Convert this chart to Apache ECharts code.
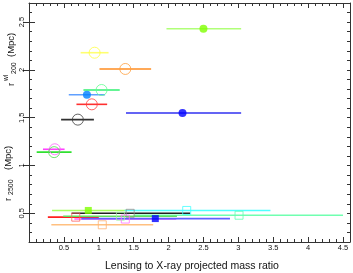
<!DOCTYPE html>
<html><head><meta charset="utf-8">
<script src="https://cdn.jsdelivr.net/npm/echarts@6/dist/echarts.min.js"></script>
<style>html,body{margin:0;padding:0;background:#fff}#c{width:353px;height:273px}</style>
</head><body><div id="c"></div>
<script>
// ---- data: r200 (weak lensing, circles) ----
const r200X  = [2.50, 2.20, 0.94, 1.38, 1.04, 0.83, 0.90, 0.70, 0.37, 0.36];
const r200Lo = [1.97, 1.39, 0.74, 1.01, 0.78, 0.57, 0.68, 0.46, 0.20, 0.11];
const r200Hi = [3.04, 3.04, 1.14, 1.75, 1.30, 1.09, 1.12, 0.93, 0.51, 0.61];
const r200Y  = [2.43, 1.55, 2.18, 2.01, 1.79, 1.74, 1.64, 1.48, 1.17, 1.14];
const r200Filled = [true, true, false, false, false, true, false, false, false, false];
// ---- data: r2500 (squares) ----
const r2500X  = [0.85, 2.26, 1.45, 3.01, 0.67, 1.31, 1.38, 1.81, 1.05];
const r2500Lo = [0.33, 1.37, 0.61, 1.50, 0.27, 0.49, 0.65, 0.75, 0.32];
const r2500Hi = [1.40, 3.46, 2.31, 4.50, 1.00, 2.12, 2.11, 2.88, 1.78];
const r2500Y  = [0.53, 0.53, 0.50, 0.48, 0.46, 0.47, 0.44, 0.445, 0.38];
const r2500Filled = [true, false, false, false, false, false, false, true, false];
const xTickLabels = [0.5, 1, 1.5, 2, 2.5, 3, 3.5, 4, 4.5];
const yTickLabels = [0.5, 1, 1.5, 2, 2.5];

// ---- styles ----
const r200Mark = ['#80ff00','#0000ff','#ffff40','#ffa040','#60ff90','#0080ff','#ff4040','#404040','#ff60ff','#50e050'];
const r200Bar  = ['#b0ff78','#3030f0','#ffff70','#ff8c20','#30f070','#60a0ff','#ff3030','#303030','#ff40ff','#30e030'];
const r2500Mark = ['#80ff00','#40ffff','#909090','#60ffb0','#ff6060','#a0f0a0','#ff70ff','#0000ff','#ffb070'];
const r2500Bar  = ['#a8ff60','#50ffff','#202020','#70ffb0','#ff2020','#60e060','#ff60ff','#6060ff','#ffc080'];

const FONT = 'Liberation Sans, Arial, sans-serif';
const chart = echarts.init(document.getElementById('c'), null, {renderer: 'canvas'});
const grid = {left: 29, right: 2, top: 2, bottom: 31};

function isHalf(v){ return Math.abs(v*2 - Math.round(v*2)) < 1e-6; }

function barSeries(lo, hi, y, colors){
  return {
    type: 'custom',
    silent: true,
    data: lo.map((l, i) => [l, hi[i], y[i]]),
    encode: {x: [0, 1], y: 2},
    clip: true,
    renderItem: function(params, api){
      const a = api.coord([api.value(0), api.value(2)]);
      const b = api.coord([api.value(1), api.value(2)]);
      return {type: 'line', shape: {x1: a[0], y1: a[1], x2: b[0], y2: b[1]},
        style: {stroke: colors[params.dataIndex], lineWidth: 1.6}};
    },
    z: 2
  };
}
function markSeries(xs, ys, filled, colors, symbol, openSize, fillSize){
  return {
    type: 'scatter',
    silent: true,
    data: xs.map((x, i) => ({
      value: [x, ys[i]],
      symbolSize: filled[i] ? fillSize : openSize,
      itemStyle: filled[i]
        ? {color: colors[i], borderWidth: 0}
        : {color: 'rgba(0,0,0,0)', borderColor: colors[i], borderWidth: 1}
    })),
    symbol: symbol,
    z: 3
  };
}

const tickStyle = {lineStyle: {color: '#333', width: 1}};
const xAxisBase = {
  type: 'value', min: 0, max: 4.6, interval: 0.5,
  axisLine: {show: true, onZero: false, lineStyle: {color: '#333', width: 1}},
  axisTick: Object.assign({show: true, inside: true, length: 5}, tickStyle),
  minorTick: Object.assign({show: true, splitNumber: 5, length: 3}, tickStyle),
  splitLine: {show: false}
};
const yMinor = {
  type: 'value', min: 0.2, max: 2.7, interval: 0.1,
  axisLine: {show: true, onZero: false, lineStyle: {color: '#333', width: 1}},
  axisTick: Object.assign({show: true, inside: true, length: 3}, tickStyle),
  splitLine: {show: false}
};
const yMajor = {
  type: 'value', min: 0.2, max: 2.7, interval: 0.1,
  axisLine: {show: false},
  axisTick: Object.assign({show: true, inside: true, length: 6, customValues: yTickLabels}, tickStyle),
  axisLabel: {show: false},
  splitLine: {show: false}
};

const option = {
  animation: false,
  backgroundColor: '#fff',
  grid: grid,
  xAxis: [
    Object.assign({}, xAxisBase, {position: 'bottom',
      axisLabel: {show: true, fontSize: 7.5, color: '#111', fontFamily: FONT, margin: 2,
        formatter: v => (xTickLabels.indexOf(+v.toFixed(2)) >= 0 ? String(+v.toFixed(2)) : '')}}),
    Object.assign({}, xAxisBase, {position: 'top', axisLabel: {show: false}})
  ],
  yAxis: [
    Object.assign({}, yMinor, {position: 'left',
      axisLabel: {show: true, fontSize: 7.5, color: '#111', fontFamily: FONT, rotate: 90, margin: 3,
        formatter: v => (isHalf(v) && yTickLabels.indexOf(+v.toFixed(2)) >= 0 ? String(+v.toFixed(2)) : '')}}),
    Object.assign({}, yMinor, {position: 'right', axisLabel: {show: false}}),
    Object.assign({}, yMajor, {position: 'left'}),
    Object.assign({}, yMajor, {position: 'right'})
  ],
  series: [
    barSeries(r200Lo, r200Hi, r200Y, r200Bar),
    barSeries(r2500Lo, r2500Hi, r2500Y, r2500Bar),
    markSeries(r200X, r200Y, r200Filled, r200Mark, 'circle', 11, 8),
    markSeries(r2500X, r2500Y, r2500Filled, r2500Mark, 'rect', 8, 7)
  ],
  graphic: [
    {type: 'text', x: 105, y: 261,
      style: {text: 'Lensing to X-ray projected mass ratio', fontSize: 10.5, fontFamily: FONT, fill: '#111'}},
    // upper y title: r^wl_200 (Mpc)
    {type: 'text', x: 6, y: 86, rotation: Math.PI/2,
      style: {text: 'r', fontSize: 9.5, fontFamily: FONT, fill: '#111', verticalAlign: 'top'}},
    {type: 'text', x: 3, y: 81, rotation: Math.PI/2,
      style: {text: 'wl', fontSize: 6.5, fontFamily: FONT, fill: '#111', verticalAlign: 'top'}},
    {type: 'text', x: 11, y: 74, rotation: Math.PI/2,
      style: {text: '200', fontSize: 7, fontFamily: FONT, fill: '#111', verticalAlign: 'top'}},
    {type: 'text', x: 6, y: 57, rotation: Math.PI/2,
      style: {text: '(Mpc)', fontSize: 9.5, fontFamily: FONT, fill: '#111', verticalAlign: 'top'}},
    // lower y title: r_2500 (Mpc)
    {type: 'text', x: 3, y: 201, rotation: Math.PI/2,
      style: {text: 'r', fontSize: 9.5, fontFamily: FONT, fill: '#111', verticalAlign: 'top'}},
    {type: 'text', x: 8, y: 195, rotation: Math.PI/2,
      style: {text: '2500', fontSize: 7, fontFamily: FONT, fill: '#111', verticalAlign: 'top'}},
    {type: 'text', x: 3, y: 170, rotation: Math.PI/2,
      style: {text: '(Mpc)', fontSize: 9.5, fontFamily: FONT, fill: '#111', verticalAlign: 'top'}}
  ]
};
chart.setOption(option);
</script>
</body></html>
